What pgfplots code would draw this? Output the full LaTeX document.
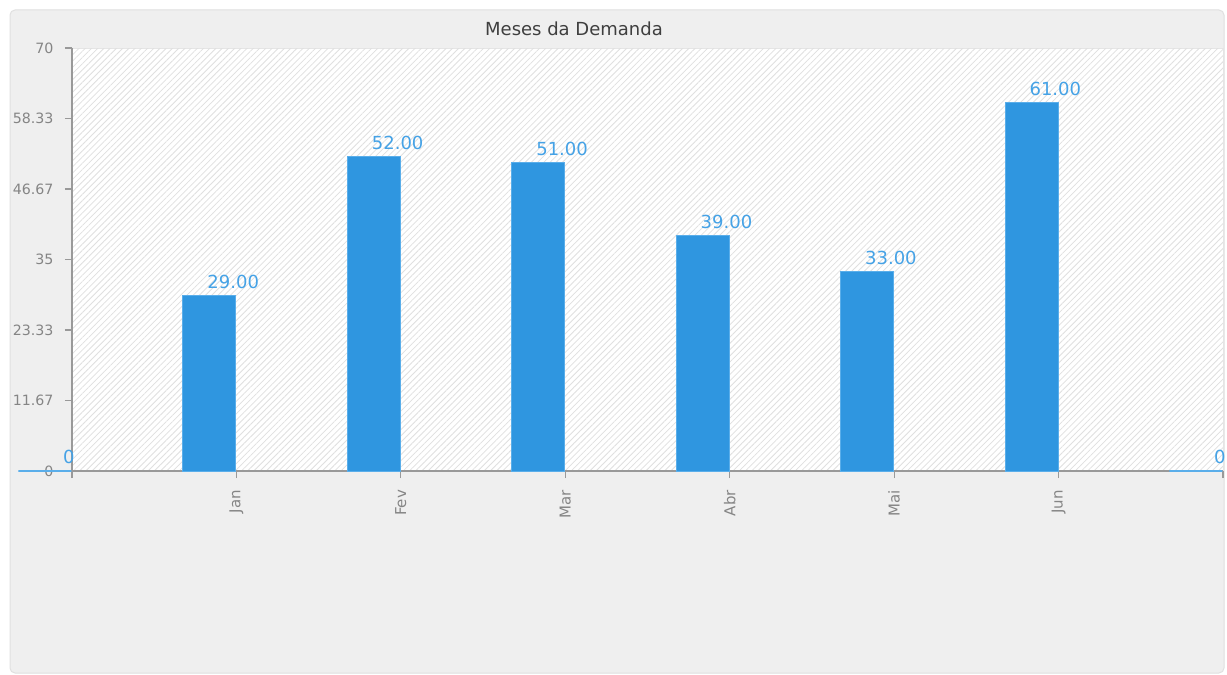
\documentclass[border=0pt]{standalone}
\usepackage{pgfplots}
\pgfplotsset{compat=1.18}
\usepackage{fontspec}
\setmainfont{DejaVu Sans}
\usetikzlibrary{patterns.meta}
\definecolor{barblue}{HTML}{2F96E0}
\definecolor{edgeblue}{HTML}{5AAEEA}
\definecolor{lblblue}{HTML}{45A2E6}
\definecolor{panel}{HTML}{EFEFEF}
\definecolor{axgray}{HTML}{999999}
\definecolor{ticktext}{HTML}{858585}
\definecolor{titlegray}{HTML}{3F3F3F}
\begin{document}
\begin{tikzpicture}
\fill[white] (-36pt,-102pt) rectangle (577.5pt,235.5pt);
\filldraw[fill=panel, draw=black!12, line width=0.5pt, rounded corners=2.5pt] (-31pt,-101pt) rectangle (576pt,230.5pt);
\begin{axis}[
  at={(0pt,0pt)}, anchor=south west,
  scale only axis,
  width=575.5pt, height=211.5pt,
  xmin=0, xmax=7, ymin=0, ymax=70,
  clip=false,
  axis x line*=bottom, axis y line*=left,
  axis line style={axgray, line width=0.6pt, -},
  tick align=outside,
  major tick length=3.5pt,
  tick style={axgray, line width=0.6pt},
  ytick={0,11.67,23.33,35,46.67,58.33,70},
  yticklabels={0,11.67,23.33,35,46.67,58.33,70},
  xtick={0,1,2,3,4,5,6,7},
  xticklabels={,Jan,Fev,Mar,Abr,Mai,Jun,},
  /pgf/number format/assume math mode=true,
  y tick label style={font=\fontsize{7.1}{8}\selectfont, text=ticktext, xshift=-2.2pt},
  x tick label style={font=\fontsize{7.5}{8}\selectfont, text=ticktext, rotate=90, anchor=east, xshift=-2.5pt},
  axis background/.style={fill=white, draw=black!10, line width=0.4pt,
     postaction={pattern={Lines[angle=45,distance=2.2pt,line width=0.4pt]}, pattern color=black!12}},
]
\addplot[ybar, fill=barblue, draw=edgeblue, line width=0.5pt, bar width=26.5pt, bar shift=-13.5pt]
  table {
x y
1 29
2 52
3 51
4 39
5 33
6 61
};
\addplot[ybar, fill=barblue, draw=edgeblue, line width=1pt, bar width=26.5pt, bar shift=-13.5pt]
  table {
x y
0 0
7 0
};
\addplot[draw=none, mark=none, nodes near coords, point meta=explicit symbolic,
  nodes near coords style={font=\fontsize{9}{10}\selectfont, text=lblblue, anchor=south, inner sep=0pt, yshift=3.2pt, xshift=-1.6pt}]
  table[meta=label] {
x y label
0 0 0
1 29 29.00
2 52 52.00
3 51 51.00
4 39 39.00
5 33 33.00
6 61 61.00
7 0 0
};
\end{axis}
\node[font=\fontsize{9}{10}\selectfont, text=titlegray] at (251pt,221pt) {Meses da Demanda};
\pgfresetboundingbox
\useasboundingbox (-36pt,-102pt) rectangle (577.5pt,235.5pt);
\end{tikzpicture}
\end{document}
